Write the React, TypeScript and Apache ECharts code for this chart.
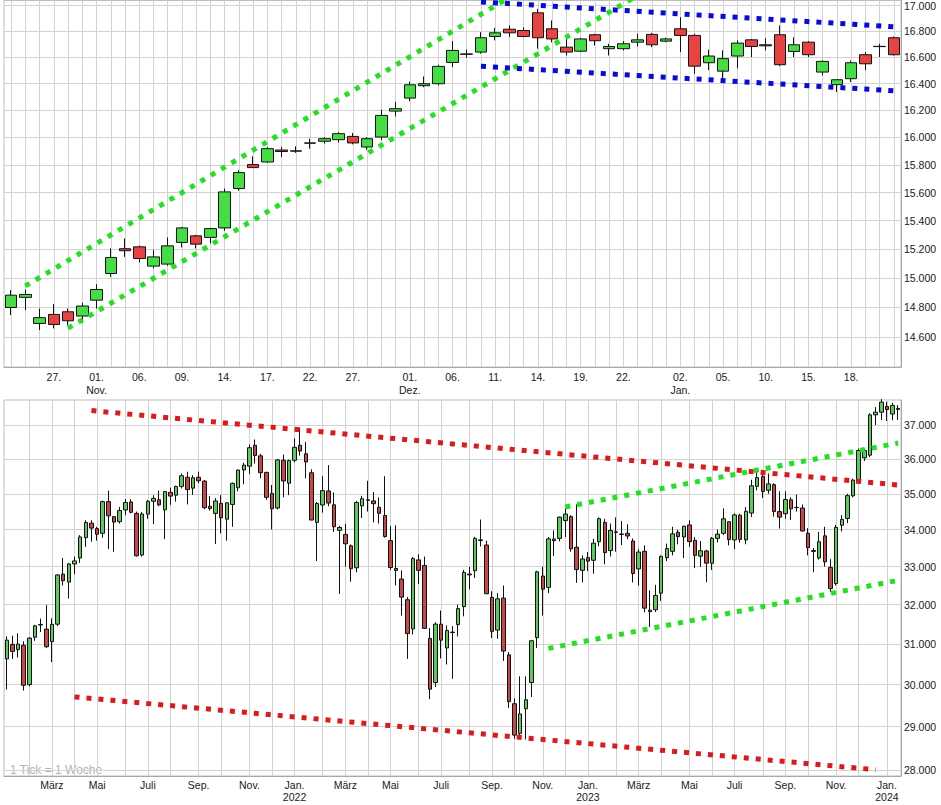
import React, { useEffect, useRef } from 'react';
import * as echarts from 'echarts';

// ---------- Top chart: daily candles ----------
const dayDates = [
  '2023-10-24', '2023-10-25', '2023-10-26', '2023-10-27', '2023-10-30', '2023-10-31',
  '2023-11-01', '2023-11-02', '2023-11-03', '2023-11-06', '2023-11-07', '2023-11-08', '2023-11-09', '2023-11-10',
  '2023-11-13', '2023-11-14', '2023-11-15', '2023-11-16', '2023-11-17', '2023-11-20', '2023-11-21', '2023-11-22',
  '2023-11-23', '2023-11-24', '2023-11-27', '2023-11-28', '2023-11-29', '2023-11-30',
  '2023-12-01', '2023-12-04', '2023-12-05', '2023-12-06', '2023-12-07', '2023-12-08', '2023-12-11', '2023-12-12',
  '2023-12-13', '2023-12-14', '2023-12-15', '2023-12-18', '2023-12-19', '2023-12-20', '2023-12-21', '2023-12-22',
  '2023-12-27', '2023-12-28', '2023-12-29',
  '2024-01-02', '2024-01-03', '2024-01-04', '2024-01-05', '2024-01-08', '2024-01-09', '2024-01-10', '2024-01-11',
  '2024-01-12', '2024-01-15', '2024-01-16', '2024-01-17', '2024-01-18', '2024-01-19', '2024-01-22', '2024-01-23',
];
const dayOpen = [
  14798, 14867, 14690, 14751, 14769, 14740,
  14848, 15031, 15203, 15216, 15082, 15096, 15247, 15293, 15282, 15349, 15629, 15802, 15821, 15908, 15900, 15958, 15972, 15984, 16008, 15930, 16003, 16195,
  16292, 16385, 16400, 16561, 16623, 16640, 16760, 16816, 16806, 16943, 16819, 16678, 16647, 16773, 16666, 16666, 16716, 16776, 16724,
  16819, 16768, 16559, 16495, 16610, 16734, 16696, 16773, 16645, 16716, 16488, 16393, 16438, 16620, 16682, 16750,
];
const dayClose = [
  14882, 14887, 14729, 14683, 14708, 14808,
  14921, 15142, 15189, 15135, 15146, 15223, 15349, 15235, 15344, 15605, 15744, 15780, 15918, 15897, 15902, 15960, 15991, 16028, 15960, 15991, 16163, 16213,
  16392, 16400, 16531, 16653, 16626, 16750, 16788, 16788, 16760, 16750, 16741, 16640, 16741, 16727, 16683, 16704, 16734, 16696, 16741,
  16768, 16533, 16610, 16590, 16709, 16683, 16688, 16544, 16696, 16620, 16569, 16430, 16559, 16551, 16684, 16620,
];
const dayLow = [
  14747, 14780, 14646, 14657, 14679, 14694,
  14791, 15008, 15146, 15107, 15066, 15085, 15212, 15205, 15240, 15328, 15613, 15778, 15815, 15857, 15887, 15918, 15955, 15962, 15950, 15910, 15980, 16155,
  16268, 16374, 16387, 16525, 16598, 16628, 16730, 16754, 16754, 16666, 16715, 16614, 16640, 16691, 16614, 16653, 16683, 16678, 16716,
  16640, 16475, 16503, 16438, 16516, 16602, 16653, 16533, 16602, 16602, 16464, 16337, 16413, 16503, 16602, 16614,
];
const dayHigh = [
  14917, 14921, 14791, 14821, 14791, 14830,
  14957, 15205, 15275, 15225, 15195, 15282, 15356, 15300, 15350, 15629, 15761, 15862, 15930, 15930, 15935, 15991, 16003, 16040, 16033, 16003, 16206, 16263,
  16416, 16455, 16544, 16724, 16659, 16793, 16826, 16845, 16830, 16974, 16884, 16741, 16750, 16781, 16704, 16724, 16781, 16788, 16750,
  16909, 16781, 16659, 16653, 16730, 16740, 16746, 16845, 16754, 16724, 16576, 16432, 16576, 16640, 16704, 16760,
];
const dayLabelDates = [
  '2023-10-27', '2023-11-01', '2023-11-06', '2023-11-09', '2023-11-14', '2023-11-17', '2023-11-22', '2023-11-27',
  '2023-12-01', '2023-12-06', '2023-12-11', '2023-12-14', '2023-12-19', '2023-12-22',
  '2024-01-02', '2024-01-05', '2024-01-10', '2024-01-15', '2024-01-18',
];
const dayTicks = [14600, 14800, 15000, 15200, 15400, 15600, 15800, 16000, 16200, 16400, 16600, 16800, 17000];
const dayRange = [14399, 17039];
const dayTrendLines = [
  { from: '2023-10-25', fromValue: 14945, to: '2023-12-12', toValue: 17064, color: '#22e022' },
  { from: '2023-10-30', fromValue: 14658, to: '2023-12-27', toValue: 17078, color: '#22e022' },
  { from: '2023-12-08', fromValue: 17028, to: '2024-01-23', toValue: 16835, color: '#0a0ad8' },
  { from: '2023-12-08', fromValue: 16532, to: '2024-01-23', toValue: 16347, color: '#0a0ad8' },
];

// ---------- Bottom chart: weekly candles (weeks starting Monday 2021-01-04) ----------
const weekFirstMonday = [2021, 0, 4];
const weekOpen = [
  30627, 30990, 30860, 30970, 30000, 31170, 31480, 31375, 31060, 31500, 32800, 32590, 33070,
  33230, 33780, 34180, 34030, 33900, 34780, 34360, 34220, 34545, 34770, 34450, 33310, 34430,
  34790, 34830, 34550, 35040, 34960, 35210, 35470, 35160, 35470, 35360, 34650, 34450, 34730,
  34290, 34700, 35170, 35680, 35790, 36400, 36090, 35610, 35010, 34600, 35960, 35300, 35960,
  36400, 36150, 35600, 34200, 34685, 35080, 34690, 33980, 33870, 33560, 32970, 34660, 34830,
  34800, 34620, 34390, 33700, 32950, 32670, 32130, 31380, 33180, 33030, 31140, 30050, 31500,
  30900, 31300, 31490, 31950, 32780, 32890, 33720, 33580, 32190, 31350, 32170, 30730, 29540,
  28840, 29420, 30050, 31160, 32750, 32450, 33700, 33760, 34250, 34360, 33520, 32900, 33240,
  33170, 33670, 34200, 33430, 33940, 33880, 33900, 33690, 32940, 33410, 31820, 31870, 32300,
  33240, 33410, 33930, 33800, 34130, 33710, 33280, 33420, 33090, 33760, 33900, 34220, 33720,
  34400, 33720, 34460, 35210, 35490, 35100, 35260, 34500, 34440, 34830, 34610, 34600, 33900,
  33430, 33230, 33830, 32980, 32550, 34120, 34310, 34940, 35340, 36030, 36110, 37305, 37385,
  37560, 37330, 37500,
];
const weekClose = [
  31097, 30814, 30997, 29983, 31148, 31458, 31494, 30932, 31496, 32779, 32628, 33072, 33153,
  33801, 34200, 34043, 33875, 34778, 34382, 34208, 34529, 34756, 34480, 33290, 34434, 34786,
  34870, 34687, 35062, 34935, 35209, 35515, 35120, 35456, 35369, 34608, 34584, 34798, 34326,
  34746, 35295, 35677, 35820, 36328, 36100, 35602, 34899, 34580, 35971, 35365, 35951, 36338,
  36231, 35912, 34265, 34725, 35089, 34738, 34079, 34059, 33614, 32944, 34754, 34861, 34818,
  34721, 34451, 33811, 32977, 32899, 32197, 31262, 33213, 32900, 31393, 29888, 31501, 31097,
  31338, 31289, 31899, 32845, 32803, 33761, 33706, 32283, 31318, 32151, 30822, 29590, 28800,
  29297, 29635, 31083, 32862, 32403, 33748, 33746, 34347, 34430, 33477, 32920, 33204, 33147,
  33631, 34303, 33375, 33978, 33926, 33869, 33827, 32817, 33391, 31910, 31862, 32238, 33274,
  33485, 33886, 33809, 34098, 33674, 33301, 33427, 33093, 33763, 33877, 34299, 33727, 34408,
  33734, 34509, 35228, 35459, 35066, 35281, 34501, 34346, 34838, 34577, 34618, 33964, 33508,
  33408, 33670, 33127, 32418, 34061, 34283, 34947, 35390, 36245, 36248, 37305, 37385, 37690,
  37466, 37593, 37470,
];
const weekLow = [
  29881, 30630, 30660, 29856, 29960, 31080, 31300, 30900, 30550, 31450, 32500, 32160, 32800,
  33100, 33530, 33670, 33700, 33780, 33470, 33400, 34170, 34400, 34450, 33270, 33270, 34300,
  34150, 34650, 33740, 34690, 34780, 35150, 34700, 34970, 35300, 34570, 34530, 33610, 33900,
  33700, 34080, 35070, 35270, 35560, 35870, 35440, 34830, 34006, 34560, 34900, 34960, 35900,
  36100, 35440, 34260, 33150, 34470, 34650, 33940, 32280, 33000, 32600, 32850, 34320, 34500,
  34200, 34170, 33780, 32910, 32500, 31720, 30630, 31240, 32540, 31390, 29650, 29940, 30640,
  30490, 30140, 31190, 31700, 32400, 32700, 33540, 32280, 31150, 31130, 30580, 29440, 28715,
  28760, 28700, 29700, 30900, 31720, 32300, 33280, 33680, 33800, 33400, 32570, 32580, 32880,
  32810, 33550, 33060, 33270, 33400, 33580, 33740, 32580, 32500, 31800, 31430, 31810, 32100,
  33150, 33300, 33600, 33230, 33530, 32960, 32990, 32585, 32910, 33650, 33850, 33570, 33470,
  33650, 33600, 34350, 35100, 34880, 35000, 34360, 34030, 34300, 34270, 34500, 33950, 33300,
  32850, 33190, 33000, 32330, 32500, 33950, 34180, 34900, 35300, 35940, 36050, 37000, 37150,
  37120, 37140, 37150,
];
const weekHigh = [
  31193, 31210, 31270, 31070, 31170, 31480, 31640, 31990, 31650, 32800, 33230, 33100, 33270,
  33850, 34260, 34260, 34080, 34810, 35090, 34360, 34630, 34850, 34850, 34500, 34490, 34830,
  34960, 35090, 35080, 35170, 35230, 35580, 35630, 35530, 35630, 35390, 34940, 34880, 34960,
  34760, 35320, 35690, 35890, 36420, 36570, 36150, 35630, 35250, 36000, 36130, 35980, 36600,
  36920, 36500, 35700, 34770, 35500, 35820, 35040, 34100, 34160, 33600, 34800, 34940, 35370,
  35050, 34900, 35500, 34100, 34120, 32900, 32200, 33260, 33330, 33270, 31400, 31550, 31850,
  31470, 31450, 32000, 32910, 32990, 33800, 34280, 33700, 32350, 32300, 32500, 30800, 29670,
  30200, 30200, 31090, 32890, 33000, 33800, 33980, 34360, 34590, 34400, 34700, 33300, 33390,
  33750, 34340, 34300, 34170, 34340, 34240, 34150, 33760, 33470, 33570, 32370, 32520, 33300,
  33620, 34080, 34000, 34100, 34260, 33800, 33690, 33450, 33800, 34000, 34590, 34220, 34450,
  34440, 34630, 35400, 35680, 35680, 35580, 35300, 35070, 35070, 34900, 34980, 34700, 34040,
  33500, 33940, 34080, 33200, 34130, 34400, 35000, 35430, 36300, 36300, 37350, 37540, 37780,
  37700, 37670, 37600,
];
const weekTicks = [28000, 29000, 30000, 31000, 32000, 33000, 34000, 35000, 36000, 37000];
const weekRange = [27864, 37755];
const weekTrendLines = [
  { from: '2021-04-19', fromValue: 37433, to: '2024-01-15', toValue: 35249, color: '#dd1a1a' },
  { from: '2021-03-29', fromValue: 29703, to: '2023-12-18', toValue: 28005, color: '#dd1a1a' },
  { from: '2022-11-07', fromValue: 30890, to: '2024-01-15', toValue: 32637, color: '#22e022' },
  { from: '2022-11-28', fromValue: 34628, to: '2024-01-15', toValue: 36465, color: '#22e022' },
];

const monthNames = ['Jan.', 'Feb.', 'März', 'Apr.', 'Mai', 'Juni', 'Juli', 'Aug.', 'Sep.', 'Okt.', 'Nov.', 'Dez.'];
const FONT = '"Liberation Sans", Arial, sans-serif';

const weekDates = weekOpen.map((_, i) =>
  new Date(Date.UTC(weekFirstMonday[0], weekFirstMonday[1], weekFirstMonday[2] + 7 * i)).toISOString().slice(0, 10)
);

function monthStartInWeek(dateStr: string) {
  const t0 = new Date(dateStr + 'T00:00:00Z').getTime();
  for (let k = 0; k < 7; k++) {
    const d = new Date(t0 + k * 86400000);
    if (d.getUTCDate() === 1) return { m: d.getUTCMonth(), y: d.getUTCFullYear() };
  }
  return null;
}

function fmtThousands(n: number) {
  return String(n).replace(/\B(?=(\d{3})+(?!\d))/g, '.');
}

function buildOption() {
  const ln = Math.log;
  const dayLabelSet = new Set(dayLabelDates);
  const weekMonth = weekDates.map(monthStartInWeek);

  const dayCandles = dayDates.map((_, i) => [ln(dayOpen[i]), ln(dayClose[i]), ln(dayLow[i]), ln(dayHigh[i])]);
  const weekCandles = weekDates.map((_, i) => [ln(weekOpen[i]), ln(weekClose[i]), ln(weekLow[i]), ln(weekHigh[i])]);

  const yLabel = (v: number) => fmtThousands(Math.round(Math.exp(v) / 100) * 100);

  const gridLineStyle = { color: '#d2d2d2', width: 1, type: 'solid' as const };

  const trendSeries = (lines: any[], axisIdx: number) =>
    lines.map((t) => ({
      type: 'line',
      xAxisIndex: axisIdx,
      yAxisIndex: axisIdx,
      data: [[t.from, ln(t.fromValue)], [t.to, ln(t.toValue)]],
      symbol: 'none',
      silent: true,
      z: 4,
      lineStyle: { color: t.color, width: 5, type: [5, 7], cap: 'butt' },
    }));

  const vGridSeries = (dates: string[], axisIdx: number) => ({
    type: 'line',
    xAxisIndex: axisIdx,
    yAxisIndex: axisIdx,
    data: [],
    silent: true,
    markLine: {
      silent: true,
      symbol: ['none', 'none'],
      z: 1,
      label: { show: false },
      emphasis: { disabled: true },
      lineStyle: gridLineStyle,
      data: dates.map((d) => ({ xAxis: d })),
    },
  });

  const xLabelBase = { color: '#1a1a1a', fontSize: 10.5, fontFamily: FONT, lineHeight: 13 };
  const yLabelBase = { color: '#1a1a1a', fontSize: 10.5, fontFamily: FONT, margin: 3 };

  return {
    animation: false,
    backgroundColor: '#ffffff',
    grid: [
      { left: 4, right: 40, top: 0, height: 367, show: true, borderColor: '#bdbdbd', borderWidth: 1, backgroundColor: 'transparent' },
      { left: 4, right: 40, top: 400, height: 376, show: true, borderColor: '#bdbdbd', borderWidth: 1, backgroundColor: 'transparent' },
    ],
    xAxis: [
      {
        type: 'category',
        gridIndex: 0,
        data: dayDates,
        boundaryGap: true,
        axisLine: { show: true, lineStyle: { color: '#a8a8a8' } },
        axisTick: { show: false },
        splitLine: { show: false },
        axisLabel: {
          ...xLabelBase,
          margin: 3,
          interval: (idx: number) => dayLabelSet.has(dayDates[idx]),
          formatter: (val: string) => {
            const i = dayDates.indexOf(val);
            const day = val.slice(8, 10) + '.';
            const m = Number(val.slice(5, 7)) - 1;
            const prev = i > 0 ? Number(dayDates[i - 1].slice(5, 7)) - 1 : m;
            return prev !== m ? day + '\n' + monthNames[m] : day;
          },
        },
      },
      {
        type: 'category',
        gridIndex: 1,
        data: weekDates,
        boundaryGap: true,
        axisLine: { show: true, lineStyle: { color: '#a8a8a8' } },
        axisTick: { show: false },
        splitLine: { show: false },
        axisLabel: {
          ...xLabelBase,
          margin: 3,
          lineHeight: 12,
          interval: (idx: number) => {
            const w = weekMonth[idx];
            return !!w && w.m % 2 === 0;
          },
          formatter: (val: string) => {
            const w = monthStartInWeek(val);
            if (!w) return '';
            return w.m === 0 ? monthNames[0] + '\n' + w.y : monthNames[w.m];
          },
        },
      },
    ],
    yAxis: [
      {
        type: 'value',
        gridIndex: 0,
        position: 'right',
        min: ln(dayRange[0]),
        max: ln(dayRange[1]),
        axisLine: { show: true, lineStyle: { color: '#a8a8a8' } },
        axisTick: { show: false, customValues: dayTicks.map(ln) },
        axisLabel: { ...yLabelBase, customValues: dayTicks.map(ln), formatter: yLabel },
        splitLine: { show: true, lineStyle: gridLineStyle },
      },
      {
        type: 'value',
        gridIndex: 1,
        position: 'right',
        min: ln(weekRange[0]),
        max: ln(weekRange[1]),
        axisLine: { show: true, lineStyle: { color: '#a8a8a8' } },
        axisTick: { show: false, customValues: weekTicks.map(ln) },
        axisLabel: { ...yLabelBase, customValues: weekTicks.map(ln), formatter: yLabel },
        splitLine: { show: true, lineStyle: gridLineStyle },
      },
    ],
    graphic: [
      {
        type: 'text',
        left: 10,
        top: 764,
        silent: true,
        style: { text: '1 Tick = 1 Woche', fill: '#b2b2b2', fontSize: 12, fontFamily: FONT },
      },
    ],
    series: [
      vGridSeries(dayDates, 0),
      vGridSeries(weekDates.filter((_, i) => !!weekMonth[i]), 1),
      {
        type: 'candlestick',
        xAxisIndex: 0,
        yAxisIndex: 0,
        data: dayCandles,
        barWidth: 12,
        z: 3,
        itemStyle: {
          color: '#44de44',
          color0: '#e84343',
          borderColor: '#111111',
          borderColor0: '#111111',
          borderColorDoji: '#111111',
          borderWidth: 1,
        },
      },
      {
        type: 'candlestick',
        xAxisIndex: 1,
        yAxisIndex: 1,
        data: weekCandles,
        barWidth: 4,
        z: 3,
        itemStyle: {
          color: '#5cc95c',
          color0: '#c44848',
          borderColor: '#111111',
          borderColor0: '#111111',
          borderColorDoji: '#111111',
          borderWidth: 1,
        },
      },
      ...trendSeries(dayTrendLines, 0),
      ...trendSeries(weekTrendLines, 1),
    ],
  };
}

export default function App() {
  const ref = useRef<HTMLDivElement>(null);
  useEffect(() => {
    if (!ref.current) return;
    const chart = echarts.init(ref.current, null, { renderer: 'svg' });
    chart.setOption(buildOption() as any);
    return () => chart.dispose();
  }, []);
  return (
    <div
      ref={ref}
      style={{ position: 'absolute', left: 0, top: 0, width: 941, height: 805, background: '#ffffff' }}
    />
  );
}
